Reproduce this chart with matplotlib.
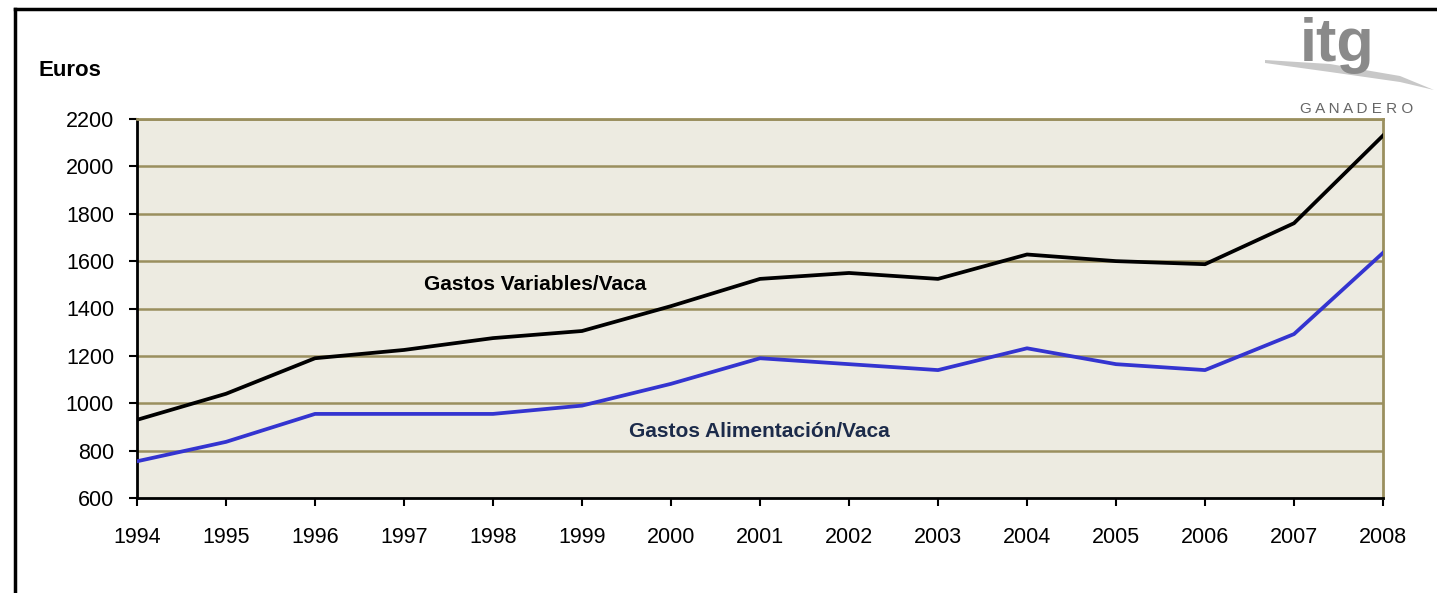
import matplotlib
matplotlib.use("Agg")
import matplotlib.pyplot as plt
from matplotlib.lines import Line2D
from matplotlib.patches import Polygon

# Graphic data
years = [1994, 1995, 1996, 1997, 1998, 1999, 2000, 2001,
         2002, 2003, 2004, 2005, 2006, 2007, 2008]
gastos_variables = [930, 1040, 1190, 1225, 1275, 1305, 1410, 1525,
                    1550, 1525, 1628, 1600, 1587, 1760, 2130]
gastos_alimentacion = [755, 837, 955, 955, 955, 990, 1082, 1190,
                       1165, 1140, 1232, 1165, 1140, 1292, 1635]
y_ticks = [600, 800, 1000, 1200, 1400, 1600, 1800, 2000, 2200]

plt.rcParams['font.family'] = ['Liberation Sans', 'DejaVu Sans']

fig = plt.figure(figsize=(14.37, 5.93), dpi=100)
ax = fig.add_axes([137 / 1437, 1 - 498 / 593, (1383 - 137) / 1437, (498 - 119) / 593])

olive = "#9a8f5e"
ax.set_facecolor("#edebe1")

# Plotting the lines
ax.plot(years, gastos_variables, color="black", lw=2.7, zorder=3)
ax.plot(years, gastos_alimentacion, color="#3434d0", lw=2.7, zorder=3)

ax.set_xlim(1994, 2008)
ax.set_ylim(600, 2200)
ax.set_xticks(years)
ax.set_yticks(y_ticks)
ax.tick_params(axis="both", direction="out", length=6, width=1.5,
               labelsize=15.5, colors="black")
ax.tick_params(axis="x", pad=15)
ax.tick_params(axis="y", pad=10.5)

for y in y_ticks[1:]:
    ax.axhline(y, color=olive, lw=1.8, zorder=1)

ax.spines["left"].set_color("black")
ax.spines["left"].set_linewidth(2)
ax.spines["bottom"].set_color("black")
ax.spines["bottom"].set_linewidth(2)
ax.spines["right"].set_color(olive)
ax.spines["right"].set_linewidth(2)
ax.spines["top"].set_color(olive)
ax.spines["top"].set_linewidth(2)

# Series labels
ax.text(1998.47, 1500, "Gastos Variables/Vaca", ha="center", va="center",
        fontsize=15, fontweight="bold", color="black")
ax.text(2000.99, 880, "Gastos Alimentación/Vaca", ha="center", va="center",
        fontsize=15, fontweight="bold", color="#1c2b4a")

fig.text(38 / 1437, 1 - 70 / 593, "Euros", ha="left", va="center",
         fontsize=16, fontweight="bold")

# Page frame
fig.add_artist(Line2D([15 / 1437, 1], [1 - 9 / 593, 1 - 9 / 593],
                      transform=fig.transFigure, color="black", lw=2.5))
fig.add_artist(Line2D([15 / 1437, 15 / 1437], [0, 1 - 9 / 593],
                      transform=fig.transFigure, color="black", lw=2.5))

# Logo
swoosh = [(1265, 60), (1330, 64), (1400, 76), (1434, 90),
          (1400, 82), (1330, 72), (1265, 63)]
fig.add_artist(Polygon([(x / 1437, 1 - y / 593) for x, y in swoosh],
                       closed=True, transform=fig.transFigure,
                       facecolor="#c8c8c8", edgecolor="none"))
fig.text(1337 / 1437, 1 - 46 / 593, "itg", ha="center", va="center",
         fontsize=44, fontweight="bold", color="#8a8a8a")
fig.text(1357 / 1437, 1 - 109 / 593, "G A N A D E R O", ha="center",
         va="center", fontsize=11, color="#666666")

fig.savefig("out.png", dpi=100, facecolor="white")
